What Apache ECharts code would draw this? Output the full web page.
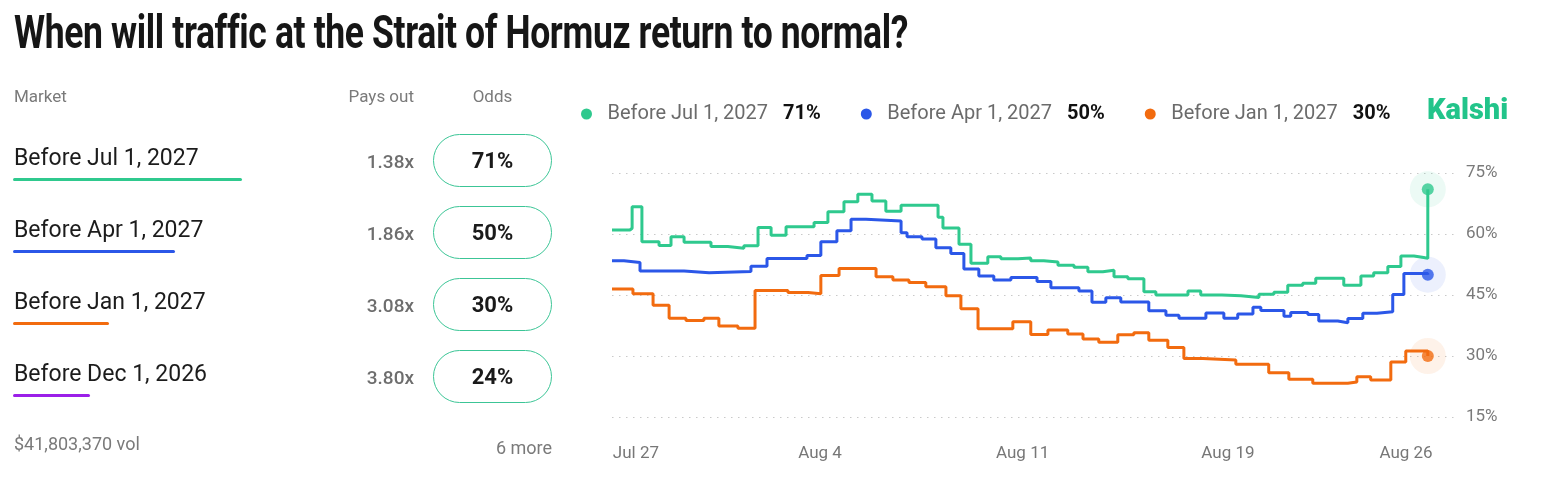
<!DOCTYPE html>
<html>
<head>
<meta charset="utf-8">
<script src="https://cdn.jsdelivr.net/npm/echarts@6/dist/echarts.min.js"></script>
<style>
  html, body { margin: 0; padding: 0; background: #fff; width: 1549px; height: 496px; overflow: hidden; font-family: Roboto, "Noto Sans", sans-serif; }
  #chart { position: absolute; left: 0; top: 0; width: 1549px; height: 496px; }
  #title { position: absolute; left: 14px; top: 4px; font-family: Roboto, sans-serif; font-weight: 700; font-size: 47px; color: #161616; white-space: nowrap; transform-origin: 0 0; letter-spacing: -0.5px; }
  .abs { position: absolute; white-space: nowrap; }
  .hdr { font-size: 17px; color: #7a7a7a; }
  .mkt { font-size: 23px; color: #1c1c1c; left: 14px; }
  .ul { position: absolute; left: 13px; height: 3px; border-radius: 1.5px; }
  .pay { font-size: 19px; color: #6e6e6e; font-weight: 500; right: calc(1549px - 414px); }
  .pill { position: absolute; left: 433px; width: 117px; height: 51px; border: 1px solid #3cc596; border-radius: 27px; display: flex; align-items: center; justify-content: center; font-size: 22px; font-weight: 700; color: #1a1a1a; }
</style>
</head>
<body>
<div id="chart"></div>
<div id="title">When will traffic at the Strait of Hormuz return to normal?</div>
<div id="panel"></div>
<script>
// ---------- data ----------
const marketNames = ['Before Jul 1, 2027', 'Before Apr 1, 2027', 'Before Jan 1, 2027', 'Before Dec 1, 2026'];
const marketPays = ['1.38x', '1.86x', '3.08x', '3.80x'];
const marketOdds = ['71%', '50%', '30%', '24%'];
const marketColors = ['#2fc98e', '#2b57e8', '#f26b0f', '#9b1fe8'];
const underlineWidths = [229, 162, 96, 77];
const volumeText = '$41,803,370 vol';
const moreText = '6 more';

const xTickPos = [0.88, 7.65, 15.1, 22.65, 29.2];
const xTickLabels = ['Jul 27', 'Aug 4', 'Aug 11', 'Aug 19', 'Aug 26'];
const yTicks = [15, 30, 45, 60, 75];

// step points: [day, value] (value holds until next point)
const julData = [
  [0, 61.0], [0.66, 61.4], [0.74, 66.7], [1.10, 58.1], [1.73, 57.2], [2.17, 59.3], [2.65, 58.0],
  [3.64, 56.9], [4.26, 56.5], [4.85, 57.1], [5.37, 61.6], [5.85, 59.7], [6.40, 61.8], [7.43, 62.8],
  [7.94, 65.5], [8.53, 67.9], [9.04, 69.8], [9.56, 68.1], [10.07, 65.6], [10.63, 67.1], [11.99, 64.1],
  [12.17, 61.5], [12.76, 57.5], [13.20, 52.8], [13.82, 54.4], [14.30, 53.9], [14.93, 54.1], [15.40, 53.4],
  [15.88, 53.1], [16.40, 52.3], [16.99, 51.8], [17.50, 50.7], [18.05, 51.1], [18.46, 49.5], [18.97, 49.0],
  [19.56, 45.8], [20.00, 45.0], [21.18, 46.0], [21.65, 45.0], [22.43, 44.8], [23.13, 44.4], [23.79, 45.2],
  [24.34, 45.7], [24.85, 47.4], [25.40, 47.9], [25.88, 49.1], [26.91, 47.4], [27.54, 49.7], [28.01, 50.5],
  [28.53, 52.0], [29.01, 54.6], [29.49, 54.2], [29.85, 54.0], [30.0, 71]
];
const aprData = [
  [0, 53.4], [0.44, 53.0], [1.03, 50.9], [2.65, 50.5], [3.57, 50.8], [5.11, 52.1], [5.70, 54.0],
  [7.17, 54.7], [7.68, 58.1], [8.27, 60.8], [8.79, 63.6], [9.34, 63.2], [10.63, 60.3], [10.85, 59.3],
  [11.40, 58.8], [11.91, 56.6], [12.46, 55.2], [12.94, 51.4], [13.49, 49.7], [14.04, 48.7], [14.67, 49.3],
  [15.63, 48.3], [16.14, 46.8], [17.17, 46.0], [17.65, 43.2], [18.16, 44.3], [18.71, 43.3], [19.74, 41.1],
  [20.37, 40.0], [20.85, 39.3], [21.84, 40.6], [22.50, 39.3], [23.01, 40.3], [23.57, 42.0], [23.86, 41.2],
  [24.71, 39.8], [24.96, 40.7], [25.59, 40.2], [25.99, 38.6], [26.69, 38.2], [27.06, 39.2], [27.61, 40.5],
  [28.13, 40.9], [28.71, 45.1], [29.12, 50.3], [30.0, 50]
];
const janData = [
  [0, 46.5], [0.77, 45.3], [1.51, 42.5], [2.10, 39.3], [2.72, 38.7], [3.38, 39.3], [3.93, 37.4],
  [4.63, 36.8], [5.26, 46.1], [6.47, 45.6], [7.21, 45.3], [7.68, 49.8], [8.35, 51.5], [9.71, 49.5],
  [10.33, 48.7], [10.92, 48.1], [11.54, 47.0], [12.28, 44.8], [12.83, 41.6], [13.46, 36.7], [14.74, 38.4],
  [15.40, 35.3], [16.03, 36.4], [16.76, 35.4], [17.32, 34.2], [17.90, 33.4], [18.60, 35.2], [19.19, 35.7],
  [19.74, 33.9], [20.44, 32.1], [21.03, 29.4], [21.73, 29.0], [22.94, 28.0], [24.15, 25.9], [24.89, 24.3],
  [25.77, 23.3], [27.06, 23.6], [27.39, 24.9], [27.90, 24.1], [28.64, 28.5], [29.19, 31.2], [30.0, 30]
];
const chartSeries = [
  { name: 'Before Jul 1, 2027', data: julData, color: '#2fc98e' },
  { name: 'Before Apr 1, 2027', data: aprData, color: '#2b57e8' },
  { name: 'Before Jan 1, 2027', data: janData, color: '#f26b0f' }
];

// ---------- left panel ----------
const panel = document.getElementById('panel');
function add(html) { panel.insertAdjacentHTML('beforeend', html); }
add(`<div class="abs hdr" style="left:14px;top:86px;">Market</div>`);
add(`<div class="abs hdr" style="right:${1549-414}px;top:86px;">Pays out</div>`);
add(`<div class="abs hdr" style="left:433px;width:119px;text-align:center;top:86px;">Odds</div>`);
marketNames.forEach((n, i) => {
  const y = 72 * i;
  add(`<div class="abs mkt" style="top:${144 + y}px;">${n}</div>`);
  add(`<div class="ul" style="top:${178 + y}px;width:${underlineWidths[i]}px;background:${marketColors[i]};"></div>`);
  add(`<div class="abs pay" style="top:${150 + y}px;">${marketPays[i]}</div>`);
  add(`<div class="pill" style="top:${134 + y}px;">${marketOdds[i]}</div>`);
});
add(`<div class="abs hdr" style="left:14px;top:433px;font-size:18px;">${volumeText}</div>`);
add(`<div class="abs hdr" style="right:${1549-552}px;top:437px;font-size:18px;">${moreText}</div>`);

// fit title width
const t = document.getElementById('title');
const tw = t.getBoundingClientRect().width;
t.style.transform = `scaleX(${894 / tw})`;

// ---------- chart ----------
const chart = echarts.init(document.getElementById('chart'), null, { renderer: 'canvas' });
const lastVal = {};
chartSeries.forEach(s => { lastVal[s.name] = s.data[s.data.length - 1][1]; });

const series = [];
chartSeries.forEach(s => {
  series.push({
    name: s.name, type: 'line', step: 'end', data: s.data, showSymbol: false, symbol: 'circle',
    lineStyle: { width: 3, color: s.color }, itemStyle: { color: s.color }, z: 3, animation: false
  });
});
chartSeries.forEach(s => {
  const last = s.data[s.data.length - 1];
  series.push({
    type: 'scatter', data: [last], symbolSize: 36, itemStyle: { color: s.color, opacity: 0.09 },
    silent: true, z: 2, animation: false
  });
  series.push({
    type: 'scatter', data: [last], symbolSize: 12, itemStyle: { color: s.color },
    silent: true, z: 4, animation: false
  });
});

chart.setOption({
  animation: false,
  textStyle: { fontFamily: 'Roboto, sans-serif' },
  grid: { left: 612, right: 94, top: 173, bottom: 79 },
  legend: {
    data: chartSeries.map(s => ({ name: s.name, icon: 'circle', itemStyle: { color: s.color } })),
    left: 576, top: 99, itemWidth: 32, itemHeight: 11, itemGap: 40,
    formatter: name => `{n|${name}}{v|${lastVal[name]}%}`,
    textStyle: {
      fontSize: 20, color: '#6b6b6b',
      rich: {
        n: { fontSize: 20, color: '#6b6b6b', fontFamily: 'Roboto, sans-serif' },
        v: { fontSize: 20, color: '#111', fontWeight: 'bold', fontFamily: 'Roboto, sans-serif', padding: [0, 0, 0, 15] }
      }
    }
  },
  graphic: [{
    type: 'text', left: 1427, top: 97,
    style: { text: 'Kalshi', fill: '#22c48a', font: '900 29px Roboto, sans-serif' }
  }],
  xAxis: {
    type: 'value', min: 0, max: 31.0,
    axisLine: { show: false }, axisTick: { show: false }, splitLine: { show: false },
    axisLabel: {
      customValues: xTickPos, color: '#777', fontSize: 17, margin: 28,
      formatter: v => {
        let best = 0;
        xTickPos.forEach((p, i) => { if (Math.abs(p - v) < Math.abs(xTickPos[best] - v)) best = i; });
        return xTickLabels[best];
      }
    }
  },
  yAxis: {
    type: 'value', position: 'right', min: yTicks[0], max: yTicks[yTicks.length - 1], interval: 15,
    axisLine: { show: false }, axisTick: { show: false },
    axisLabel: { formatter: '{value}%', color: '#7a7a7a', fontSize: 17, margin: 11 },
    splitLine: { show: true, lineStyle: { color: '#c9c9c9', width: 1, type: [1.5, 5.5] } }
  },
  series: series
});
</script>
</body>
</html>
